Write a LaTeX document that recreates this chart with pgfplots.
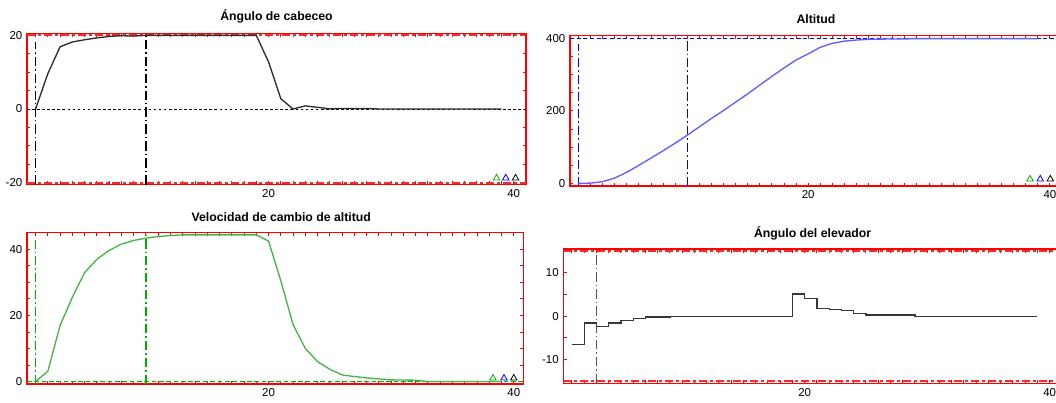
\documentclass[border=0pt]{standalone}
\usepackage{fontspec}
\setmainfont{Liberation Sans}
\usepackage{pgfplots}
\pgfplotsset{compat=1.18}

\definecolor{limitred}{RGB}{255,40,40}
\definecolor{pitchline}{RGB}{45,45,45}
\definecolor{altline}{RGB}{95,95,255}
\definecolor{altref}{RGB}{0,0,255}
\definecolor{rateline}{RGB}{70,180,70}
\definecolor{rateref}{RGB}{0,175,0}
\definecolor{elevline}{RGB}{55,55,55}
\definecolor{elevref}{RGB}{85,85,85}

\pgfplotsset{
  every axis title/.style={at={(0.5,1)}, anchor=base,
    font=\bfseries\fontsize{9.2}{11}\selectfont},
  panel/.style={
    scale only axis,
    axis line style={draw=red, line width=1.1pt},
    tick align=inside,
    xtick pos=both, ytick pos=both,
    tick style={red, line width=0.7pt},
    major tick length=2.6pt, minor tick length=2.6pt,
    xmin=0.3,
    xtick={10,20,30,40}, xticklabels={,20,,40},
    minor xtick={1,...,41},
    ticklabel style={font=\fontsize{8.6}{10}\selectfont, text=black},
  },
  limit/.style={limitred, line width=1.3pt, dash pattern=on 6pt off 2.25pt on 2.25pt off 2.25pt},
  cursor/.style={line width=0.95pt, dash pattern=on 7pt off 2.25pt on 1.2pt off 2.25pt},
  data/.style={line width=1pt},
  flag/.style={only marks, mark=triangle, mark size=2.8pt, mark options={line width=0.6pt}},
}

\begin{document}
\begin{tikzpicture}

% ---- pitch angle ----
\begin{axis}[panel, at={(20.25pt,-138.375pt)}, anchor=south west,
  width=374.25pt, height=113.25pt, xmax=41, ymin=-20.5, ymax=20.5,
  ytick={-20,-15,...,20}, yticklabels={-20,,,,0,,,,20},
  title={Ángulo de cabeceo}, title style={yshift=10pt}]
  \addplot[limit] coordinates {(0.3,20) (41,20)};
  \addplot[limit] coordinates {(0.3,-20) (41,-20)};
  \addplot[black, line width=0.6pt, dash pattern=on 2pt off 1.8pt] coordinates {(0.3,0) (41,0)};
  \addplot[cursor, black] coordinates {(1,-20.5) (1,18.1)};
  \addplot[cursor, black] coordinates {(10,-20.5) (10,20)};
  \addplot[data, pitchline] coordinates {(1,0) (2,9.6) (3,16.9) (4,18.2) (5,18.8) (6,19.3) (7,19.7)
    (8,19.9) (9,19.8) (10,20) (19,20) (20,12.8) (21,2.8) (22,0) (23,0.85) (24,0.45)
    (25,0.05) (26,0.15) (28,0.15) (29,0) (39,0)};
  \addplot[flag, rateref] coordinates {(38.6,-18.75)};
  \addplot[flag, altref] coordinates {(39.35,-18.75)};
  \addplot[flag, black] coordinates {(40.15,-18.75)};
\end{axis}

% ---- altitude ----
\begin{axis}[panel, at={(427.5pt,-139.5pt)}, anchor=south west,
  width=369pt, height=113pt, xmax=41, ymin=-7, ymax=408,
  ytick={0,50,...,400}, yticklabels={0,,,,200,,,,400},
  title={Altitud}, title style={yshift=9pt}]
  \addplot[altref, line width=0.7pt, dash pattern=on 3pt off 2pt] coordinates {(0.3,400) (41,400)};
  \addplot[cursor, altref] coordinates {(1,-7) (1,384)};
  \addplot[cursor, altref] coordinates {(10,-7) (10,400)};
  \addplot[data, altline] coordinates {(1,0) (2,1) (3,5) (4,15) (5,31) (6,50) (7,70) (8,90)
    (9,111) (10,133) (11,156) (12,179) (13,201) (14,224) (15,247) (16,271) (17,295)
    (18,318) (19,340) (20,357) (21,375) (22,386) (23,392) (24,395) (25,397) (26,397.5)
    (27,398) (28,398) (29,399) (39,399)};
  \addplot[flag, rateref] coordinates {(38.35,12)};
  \addplot[flag, altref] coordinates {(39.2,12)};
  \addplot[flag, black] coordinates {(40.03,12)};
\end{axis}

% ---- rate of climb ----
\begin{axis}[panel, at={(20.25pt,-288pt)}, anchor=south west,
  width=372.45pt, height=113.6pt, xmax=40.8, ymin=-0.75, ymax=45.1,
  ytick={0,5,...,45}, yticklabels={0,,,,20,,,,40,},
  title={Velocidad de cambio de altitud}, title style={yshift=8pt, at={(0.512,1)}}]
  \addplot[rateref, line width=0.7pt, dash pattern=on 3.5pt off 2pt] coordinates {(0.3,0) (41,0)};
  \addplot[cursor, rateref] coordinates {(1,-0.75) (1,42.9)};
  \addplot[cursor, rateref] coordinates {(10,-0.75) (10,45.1)};
  \addplot[data, rateline] coordinates {(1,0) (2,3.1) (3,17) (4,25.5) (5,33) (6,37) (7,39.7)
    (8,41.6) (9,42.7) (10,43.4) (11,43.9) (12,44.2) (13,44.4) (19,44.4) (20,42.5)
    (21,30.5) (22,17.2) (23,10) (24,6) (25,3.7) (26,2) (27,1.5) (28,1.1) (29,0.8)
    (30,0.5) (31,0.45) (32,0.4) (33,0) (39,0)};
  \addplot[flag, rateref] coordinates {(38.3,1)};
  \addplot[flag, altref] coordinates {(39.2,1)};
  \addplot[flag, black] coordinates {(40.0,1)};
\end{axis}

% ---- elevator angle ----
\begin{axis}[panel, at={(422.5pt,-287.5pt)}, anchor=south west,
  width=373.95pt, height=100.7pt, xmax=41, ymin=-15.5, ymax=15.5,
  ytick={-15,-10,...,15}, yticklabels={,-10,,0,,10,},
  title={Ángulo del elevador}, title style={yshift=8.4pt}]
  \addplot[limit] coordinates {(0.3,15) (41,15)};
  \addplot[limit] coordinates {(0.3,-15) (41,-15)};
  \addplot[cursor, elevref] coordinates {(3,-15.5) (3,14.1)};
  \addplot[data, elevline, const plot] coordinates {(1,-6.5) (2,-1.6) (3,-2.3) (4,-1.6) (5,-1.0)
    (6,-0.5) (7,-0.2) (9,0) (19,5.15) (20,4.15) (21,1.85) (22,1.6) (23,1.3) (24,0.7)
    (25,0.25) (29,0) (39,0)};
\end{axis}

\pgfresetboundingbox
\path[use as bounding box] (0,0) rectangle (792pt,-302.25pt);
\end{tikzpicture}
\end{document}
